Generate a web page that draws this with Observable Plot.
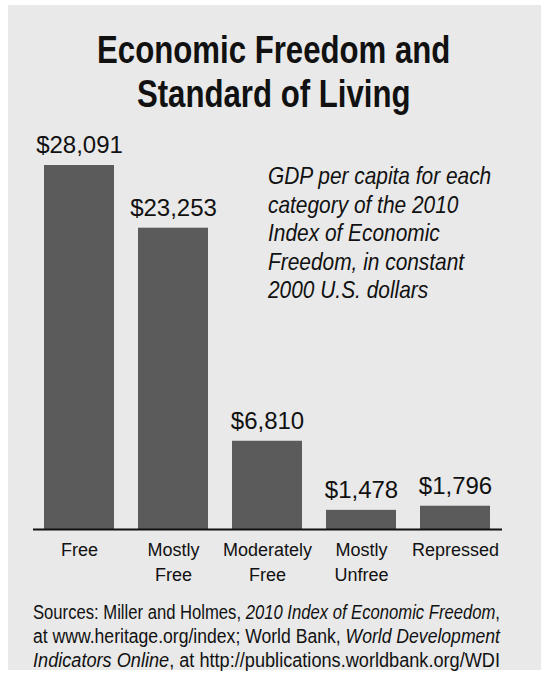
<!DOCTYPE html>
<html>
<head>
<meta charset="utf-8">
<script src="https://cdn.jsdelivr.net/npm/d3@7"></script>
<script src="https://cdn.jsdelivr.net/npm/@observablehq/plot@0.6"></script>
<style>
  html, body { margin: 0; padding: 0; background: #ffffff; }
  body { width: 549px; height: 675px; position: relative; overflow: hidden;
         font-family: "Liberation Sans", Arial, sans-serif; color: #111; }
  #panel { position: absolute; left: 8px; top: 5px; width: 533px; height: 665px; background: #e9e9e9; }
  #title { position: absolute; left: 0; top: 28px; width: 549px; text-align: center;
           font-weight: bold; font-size: 38px; line-height: 44px; color: #111;
           transform: scaleX(0.82); transform-origin: 270px 0; }
  #subtitle { position: absolute; left: 268px; top: 162px; font-style: italic;
              font-size: 24px; line-height: 28.5px; color: #111; white-space: nowrap;
              transform: scaleX(0.87); transform-origin: 0 0; }
  #chart { position: absolute; left: 0; top: 130px; }
  #source { position: absolute; left: 33px; top: 600px;
            font-size: 20px; line-height: 24px; color: #111; }
  #source div { white-space: nowrap; display: inline-block; transform-origin: 0 0; }
</style>
</head>
<body>
<div id="panel"></div>
<div id="title">Economic Freedom and<br>Standard of Living</div>
<div id="chart"></div>
<div id="subtitle">GDP per capita for each<br>category of the 2010<br>Index of Economic<br>Freedom, in constant<br>2000 U.S. dollars</div>
<div id="source"><div>Sources: Miller and Holmes, <i>2010 Index of Economic Freedom</i>,</div><br><div>at www.heritage.org/index; World Bank, <i>World Development</i></div><br><div><i>Indicators Online</i>, at http://publications.worldbank.org/WDI</div></div>
<script>
const categories = ["Free", "Mostly\nFree", "Moderately\nFree", "Mostly\nUnfree", "Repressed"];
const gdpPerCapita = [28091, 23253, 6810, 1478, 1796];

const data = categories.map((c, i) => ({cat: c, gdp: gdpPerCapita[i]}));
const fmt = d3.format(",");
const font = "Liberation Sans, Arial, sans-serif";

const chart = Plot.plot({
  width: 549,
  height: 460,
  marginLeft: 33,
  marginRight: 47,
  marginTop: 35,
  marginBottom: 61,
  style: {background: "transparent", fontFamily: font, color: "#111"},
  x: {domain: categories, paddingInner: 0.255, paddingOuter: 0.122, axis: null},
  y: {domain: [0, d3.max(gdpPerCapita)], axis: null},
  marks: [
    Plot.barY(data, {x: "cat", y: "gdp", fill: "#5b5b5b"}),
    Plot.ruleY([0], {stroke: "#111", strokeWidth: 2}),
    Plot.text(data, {x: "cat", y: "gdp", text: d => "$" + fmt(d.gdp), dy: -20,
                     fontSize: 24, fill: "#111", fontFamily: font}),
    Plot.text(data, {x: "cat", y: 0, text: "cat", lineAnchor: "top", dy: 8,
                     fontSize: 18, lineHeight: 1.42, fill: "#111", fontFamily: font})
  ]
});
document.getElementById("chart").appendChild(chart);

// fit each source line to the same width, like the justified reference block
document.querySelectorAll("#source div").forEach(el => {
  const w = el.getBoundingClientRect().width;
  el.style.transform = `scaleX(${Math.min(1, 467 / w)})`;
});
</script>
</body>
</html>
